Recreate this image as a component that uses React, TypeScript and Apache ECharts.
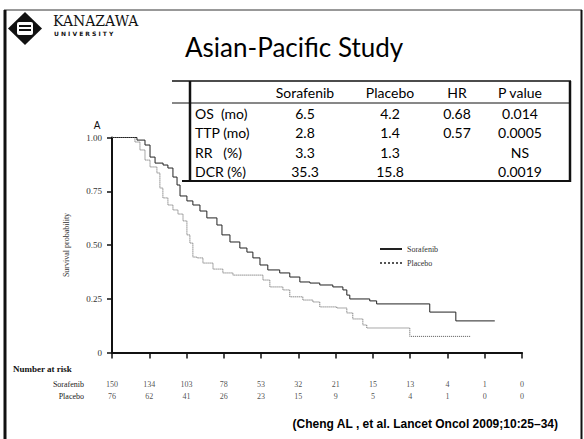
import React, { useEffect, useRef } from "react";
import * as echarts from "echarts";

// Kaplan-Meier curves (months, survival probability)
const sorafenibTime = [0, 0.97, 1.34, 1.77, 2.04, 2.31, 2.74, 3.0, 3.27, 3.49, 3.65, 4.02, 4.34, 4.72, 5.09, 5.63, 5.9, 6.33, 6.86, 7.24, 7.56, 7.94, 8.36, 9.0, 9.54, 10.08, 10.62, 11.15, 11.85, 12.39, 12.6, 12.76, 13.83, 14.2, 17.05, 18.45, 20.54];
const sorafenibSurv = [1.0, 1.0, 0.988, 0.965, 0.909, 0.881, 0.872, 0.858, 0.816, 0.779, 0.728, 0.705, 0.686, 0.658, 0.626, 0.593, 0.547, 0.514, 0.486, 0.467, 0.44, 0.407, 0.384, 0.37, 0.351, 0.328, 0.323, 0.314, 0.305, 0.291, 0.267, 0.249, 0.24, 0.226, 0.188, 0.147, 0.147];
const placeboTime = [0, 0.8, 1.23, 1.5, 1.77, 2.04, 2.41, 2.57, 2.73, 3.0, 3.27, 3.54, 3.81, 4.02, 4.18, 4.34, 4.56, 4.88, 5.42, 5.95, 6.49, 8.1, 8.47, 9.17, 9.54, 10.24, 10.78, 11.15, 12.06, 12.6, 12.92, 13.46, 13.67, 15.98, 19.25];
const placeboSurv = [1.0, 1.0, 0.979, 0.942, 0.895, 0.863, 0.835, 0.765, 0.719, 0.686, 0.663, 0.644, 0.612, 0.547, 0.509, 0.444, 0.44, 0.416, 0.388, 0.37, 0.36, 0.337, 0.305, 0.291, 0.259, 0.244, 0.235, 0.212, 0.207, 0.184, 0.156, 0.128, 0.114, 0.075, 0.075];

// Number at risk
const riskTimes = [0, 2, 4, 6, 8, 10, 12, 14, 16, 18, 20, 22];
const riskSorafenib = [150, 134, 103, 78, 53, 32, 21, 15, 13, 4, 1, 0];
const riskPlacebo = [76, 62, 41, 26, 23, 15, 9, 5, 4, 1, 0, 0];
const riskGroups = ["Sorafenib", "Placebo"];

// Y ticks
const yTicks = [0, 0.25, 0.5, 0.75, 1.0];

// Summary table
const tableHeader = ["", "Sorafenib", "Placebo", "HR", "P value"];
const rowLabels = ["OS  (mo)", "TTP (mo)", "RR   (%)", "DCR (%)"];
const sorafenibCol = ["6.5", "2.8", "3.3", "35.3"];
const placeboCol = ["4.2", "1.4", "1.3", "15.8"];
const hrCol = ["0.68", "0.57", "", ""];
const pCol = ["0.014", "0.0005", "NS", "0.0019"];

const title = "Asian-Pacific Study";
const citation = "(Cheng AL , et al. Lancet Oncol 2009;10:25\u201334)";

export default function App() {
  const ref = useRef<HTMLDivElement>(null);
  useEffect(() => {
    document.body.style.margin = "0";
    const chart = echarts.init(ref.current!, null, { renderer: "svg" });

    const tableFont = "Lato, 'Open Sans', sans-serif";
    const serif = "'Liberation Serif', serif";
    const colX = [195, 305, 390, 457, 520];
    const headerY = 92;
    const rowY = [113, 132, 152, 171];
    const tableGraphics: any[] = [];
    tableHeader.forEach((h, i) => {
      if (!h) return;
      tableGraphics.push({
        type: "text", x: colX[i], y: headerY,
        style: { text: h, fontSize: 14, fontFamily: tableFont, fill: "#000", align: "center", verticalAlign: "middle" },
      });
    });
    const cols = [rowLabels, sorafenibCol, placeboCol, hrCol, pCol];
    cols.forEach((col, ci) => {
      col.forEach((v, ri) => {
        if (!v) return;
        tableGraphics.push({
          type: "text", x: colX[ci], y: rowY[ri],
          style: { text: v, fontSize: 14, fontFamily: tableFont, fill: "#000", align: ci === 0 ? "left" : "center", verticalAlign: "middle" },
        });
      });
    });

    const lineEl = (x1: number, y1: number, x2: number, y2: number, w: number, c = "#111") => ({
      type: "line", shape: { x1, y1, x2, y2 }, style: { stroke: c, lineWidth: w },
    });

    const option: any = {
      animation: false,
      backgroundColor: "#fff",
      grid: [
        { left: 112, right: 62, top: 137.5, bottom: 86.5 },
        { left: 112, right: 62, top: 378, height: 24 },
      ],
      xAxis: [
        {
          type: "value", min: 0, max: 22, interval: 2, gridIndex: 0,
          axisLabel: { show: false },
          axisLine: { lineStyle: { color: "#111", width: 2 } },
          axisTick: { show: true, inside: false, length: 6, lineStyle: { color: "#111", width: 1.5 } },
          splitLine: { show: false },
        },
        { type: "value", min: 0, max: 22, gridIndex: 1, show: false },
      ],
      yAxis: [
        {
          type: "value", min: 0, max: 1, interval: 0.25, gridIndex: 0,
          name: "Survival probability", nameLocation: "middle", nameGap: 42, nameRotate: 90,
          nameTextStyle: { fontSize: 8, fontFamily: serif, color: "#333" },
          axisLabel: {
            fontSize: 9, fontFamily: serif, color: "#333", margin: 10,
            formatter: (v: number) => (yTicks.includes(v) ? (v === 0 ? "0" : v.toFixed(2)) : ""),
          },
          axisLine: { show: true, lineStyle: { color: "#111", width: 2 } },
          axisTick: { show: true, inside: false, length: 5, lineStyle: { color: "#111", width: 1.5 } },
          splitLine: { show: false },
        },
        {
          type: "category", data: riskGroups, inverse: true, gridIndex: 1,
          axisLine: { show: false }, axisTick: { show: false },
          axisLabel: { fontSize: 8, fontFamily: serif, color: "#222", margin: 28 },
        },
      ],
      legend: {
        orient: "vertical", left: 374, top: 240, itemWidth: 22, itemHeight: 8, itemGap: 6,
        itemStyle: { opacity: 0 },
        textStyle: { fontSize: 8, fontFamily: serif, color: "#333" },
        data: ["Sorafenib", "Placebo"],
      },
      series: [
        {
          name: "Sorafenib", type: "line", step: "end", symbol: "none", xAxisIndex: 0, yAxisIndex: 0,
          data: sorafenibTime.map((t, i) => [t, sorafenibSurv[i]]),
          lineStyle: { color: "#222", width: 1 }, itemStyle: { color: "#222" },
        },
        {
          name: "Placebo", type: "line", step: "end", symbol: "none", xAxisIndex: 0, yAxisIndex: 0,
          data: placeboTime.map((t, i) => [t, placeboSurv[i]]),
          lineStyle: { color: "#555", width: 1, type: "dotted" }, itemStyle: { color: "#555" },
        },
        {
          name: "risk", type: "scatter", xAxisIndex: 1, yAxisIndex: 1, symbolSize: 1,
          itemStyle: { color: "rgba(0,0,0,0)" },
          data: [
            ...riskTimes.map((t, i) => [t, riskGroups[0], riskSorafenib[i]]),
            ...riskTimes.map((t, i) => [t, riskGroups[1], riskPlacebo[i]]),
          ],
          label: {
            show: true, position: "inside", fontSize: 8, fontFamily: serif, color: "#222",
            textBorderWidth: 0,
            formatter: (p: any) => String(p.value[2]),
          },
        },
      ],
      graphic: [
        // slide frame
        lineEl(4, 10, 582, 10, 1, "#333"),
        lineEl(5, 10, 5, 439, 3, "#111"),
        lineEl(581.5, 10, 581.5, 439, 2, "#111"),
        // logo
        { type: "polygon", shape: { points: [[25, 12], [42, 28.5], [25, 45], [8, 28.5]] }, style: { fill: "#111" } },
        { type: "rect", shape: { x: 17, y: 22, width: 16, height: 13, r: 2 }, style: { fill: "#fff" } },
        { type: "rect", shape: { x: 19, y: 25, width: 12, height: 2 }, style: { fill: "#111" } },
        { type: "rect", shape: { x: 19, y: 29, width: 12, height: 2 }, style: { fill: "#111" } },
        { type: "text", x: 53, y: 21, style: { text: "KANAZAWA", fontSize: 14, fontFamily: "'DejaVu Serif', serif", fill: "#111", verticalAlign: "middle" } },
        { type: "text", x: 54, y: 33, style: { text: "U N I V E R S I T Y", fontSize: 6, fontWeight: "bold", fontFamily: "'DejaVu Sans', sans-serif", fill: "#111", verticalAlign: "middle" } },
        // title
        { type: "text", x: 185, y: 47, style: { text: title, fontSize: 26, fontFamily: tableFont, fill: "#000", verticalAlign: "middle" } },
        // table lines
        lineEl(172, 81, 571, 81, 1.5),
        lineEl(172, 103, 571, 103, 1),
        lineEl(182, 181, 571, 181, 2),
        lineEl(190, 81, 190, 181, 2.5),
        lineEl(570, 81, 570, 182, 2.5),
        ...tableGraphics,
        // panel label
        { type: "text", x: 97, y: 125, style: { text: "A", fontSize: 10, fontFamily: "'Liberation Sans', sans-serif", fill: "#111", align: "center", verticalAlign: "middle" } },
        // number at risk heading
        { type: "text", x: 13, y: 369, style: { text: "Number at risk", fontSize: 9, fontWeight: "bold", fontFamily: serif, fill: "#111", verticalAlign: "middle" } },
        // citation
        { type: "text", x: 558, y: 424, style: { text: citation, fontSize: 12, fontWeight: "bold", fontFamily: "'Liberation Sans', Arial, sans-serif", fill: "#000", align: "right", verticalAlign: "middle" } },
      ],
    };
    chart.setOption(option);
    return () => chart.dispose();
  }, []);
  return <div ref={ref} style={{ width: 584, height: 439 }} />;
}
